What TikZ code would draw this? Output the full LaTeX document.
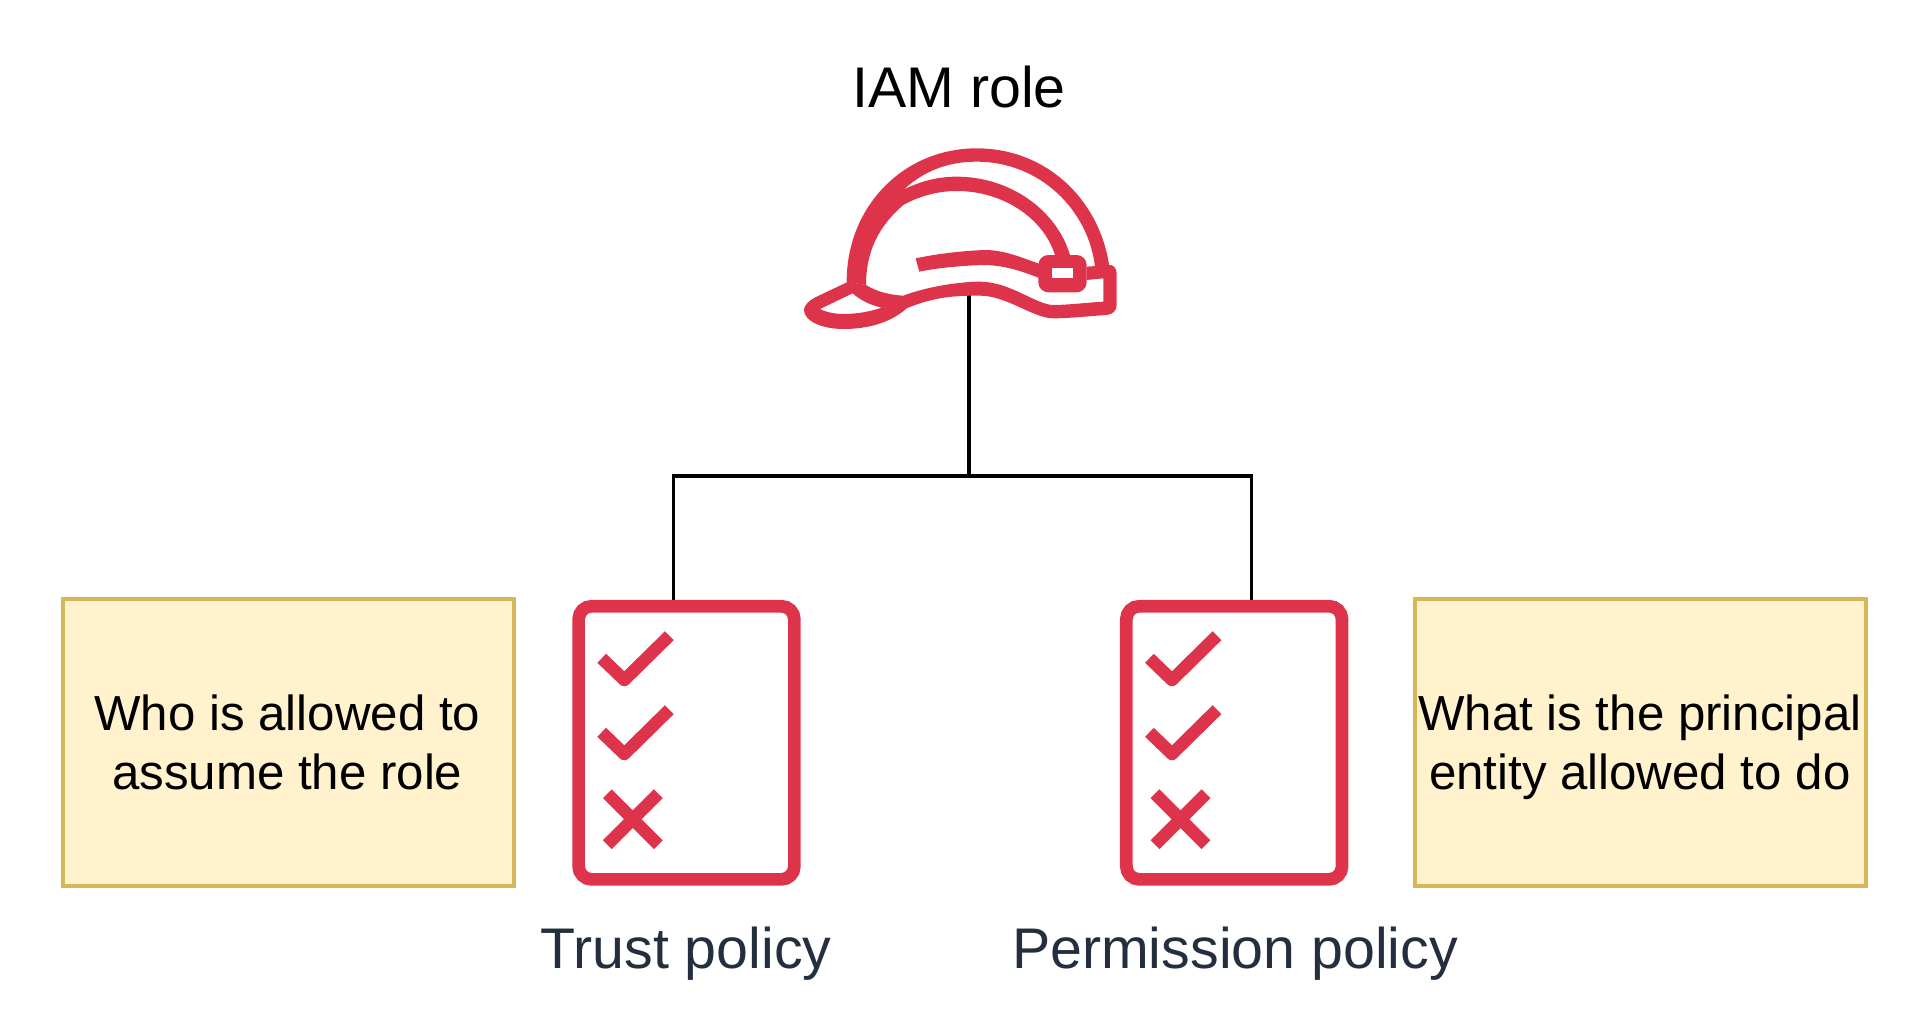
\documentclass[tikz,border=0pt]{standalone}
\usepackage{fontspec}
\setmainfont{Liberation Sans}
\definecolor{iamred}{HTML}{DD344C}
\definecolor{notefill}{HTML}{FFF2CC}
\definecolor{noteline}{HTML}{D6B656}
\definecolor{captionink}{HTML}{232F3E}
\tikzset{
    infobox/.style={draw=noteline, fill=notefill, line width=0.04cm, minimum width=4.51cm, minimum height=2.87cm, inner sep=0pt, align=center, font=\fontsize{14}{16.7}\selectfont},
    listbox/.style={draw=iamred, line width=0.127cm, rounded corners=0.13cm, minimum width=2.156cm, minimum height=2.73cm, inner sep=0pt},
    listmark/.style={draw=iamred, line width=0.125cm, line join=round},
    wire/.style={draw=black, line width=0.038cm},
    bigtext/.style={anchor=base, font=\fontsize{16.3}{19}\selectfont}
}
\begin{document}
\begin{tikzpicture}[x=0.01cm,y=-0.01cm]
        \useasboundingbox (0,0) rectangle (1908,1015);
        % Puntos de union
        \coordinate (hatfoot) at (968.7,290);
        \coordinate (fork) at (968.7,476.3);
        \coordinate (trustin) at (673.5,600);
        \coordinate (permin) at (1251.5,600);
        \draw[wire, line cap=square] (hatfoot) -- (fork);
        \draw[wire] (fork) -| (trustin);
        \draw[wire] (fork) -| (permin);
        % Casco
        \begin{scope}[shift={(780,130)},scale=0.33333]
            \fill[iamred] (200,455) .. controls (200,230) and (370,55) .. (590,55) .. controls (800,55) and (960,210) .. (988,410) -- (945,410) .. controls (925,240) and (780,95) .. (590,95) .. controls (500,95) and (430,125) .. (372,178) .. controls (430,150) and (480,140) .. (530,140) .. controls (690,140) and (830,240) .. (870,375) -- (825,375) .. controls (790,265) and (670,183) .. (530,183) .. controls (470,183) and (415,200) .. (370,225) .. controls (300,285) and (258,360) .. (258,465) -- cycle;
            \fill[iamred, even odd rule] (205,455) -- (110,500) .. controls (80,515) and (72,530) .. (72,540) .. controls (72,575) and (130,597) .. (190,597) .. controls (260,597) and (330,580) .. (380,535) .. controls (470,497) and (540,497) .. (600,497) .. controls (680,497) and (760,565) .. (820,565) .. controls (870,565) and (930,558) .. (980,555) .. controls (1000,553) and (1010,540) .. (1010,525) -- (1010,430) .. controls (1010,415) and (1000,405) .. (990,405) -- (920,410) -- (920,450) -- (970,445) -- (970,515) .. controls (920,518) and (860,525) .. (820,525) .. controls (770,525) and (690,455) .. (600,455) .. controls (540,455) and (440,470) .. (370,497) .. controls (330,495) and (290,485) .. (258,465) -- cycle
                (218,490) -- (120,537) .. controls (140,548) and (170,552) .. (190,552) .. controls (230,552) and (270,545) .. (305,533) .. controls (270,525) and (240,510) .. (218,490) -- cycle;
            \fill[iamred] (407,385) .. controls (500,365) and (600,360) .. (620,360) .. controls (680,362) and (730,385) .. (780,402) -- (780,445) .. controls (730,425) and (680,408) .. (620,405) .. controls (600,405) and (500,408) .. (418,425) -- cycle;
            \fill[iamred, rounded corners=0.1cm] (775,375) rectangle (920,487);
            \fill[white] (815,415) rectangle (880,445);
        \end{scope}
        % Listas
        \node[listbox] (trust) at (686.5,742.8) {};
        \node[listbox] (perm) at (1234.2,742.8) {};
        \draw[listmark] (601.7,658.3) -- (624.3,680) -- (669.3,635.7);
        \draw[listmark] (601.7,732.3) -- (624.3,754) -- (669.3,709.7);
        \draw[listmark] (607.3,793.7) -- (658.3,844.7);
        \draw[listmark] (658.3,793.7) -- (607.3,844.7);
        \draw[listmark] (1149.4,658.3) -- (1172,680) -- (1217,635.7);
        \draw[listmark] (1149.4,732.3) -- (1172,754) -- (1217,709.7);
        \draw[listmark] (1155,793.7) -- (1206,844.7);
        \draw[listmark] (1206,793.7) -- (1155,844.7);
        % Textos
        \node[infobox] (whobox) at (288.3,742.6) {\rule{0pt}{0.45cm}Who is allowed to\hspace*{0.02cm}\\assume the role\hspace*{0.02cm}\vphantom{y}};
        \node[infobox] (whatbox) at (1640.8,742.6) {\rule{0pt}{0.45cm}What is the principal\hspace*{0.02cm}\\entity allowed to do\hspace*{0.02cm}};
        \node[bigtext] (title) at (959,107.5) {IAM role};
        \node[bigtext, text=captionink] (trustname) at (686,968.5) {Trust policy};
        \node[bigtext, text=captionink] (permname) at (1235,968.5) {Permission policy};
\end{tikzpicture}
\end{document}
